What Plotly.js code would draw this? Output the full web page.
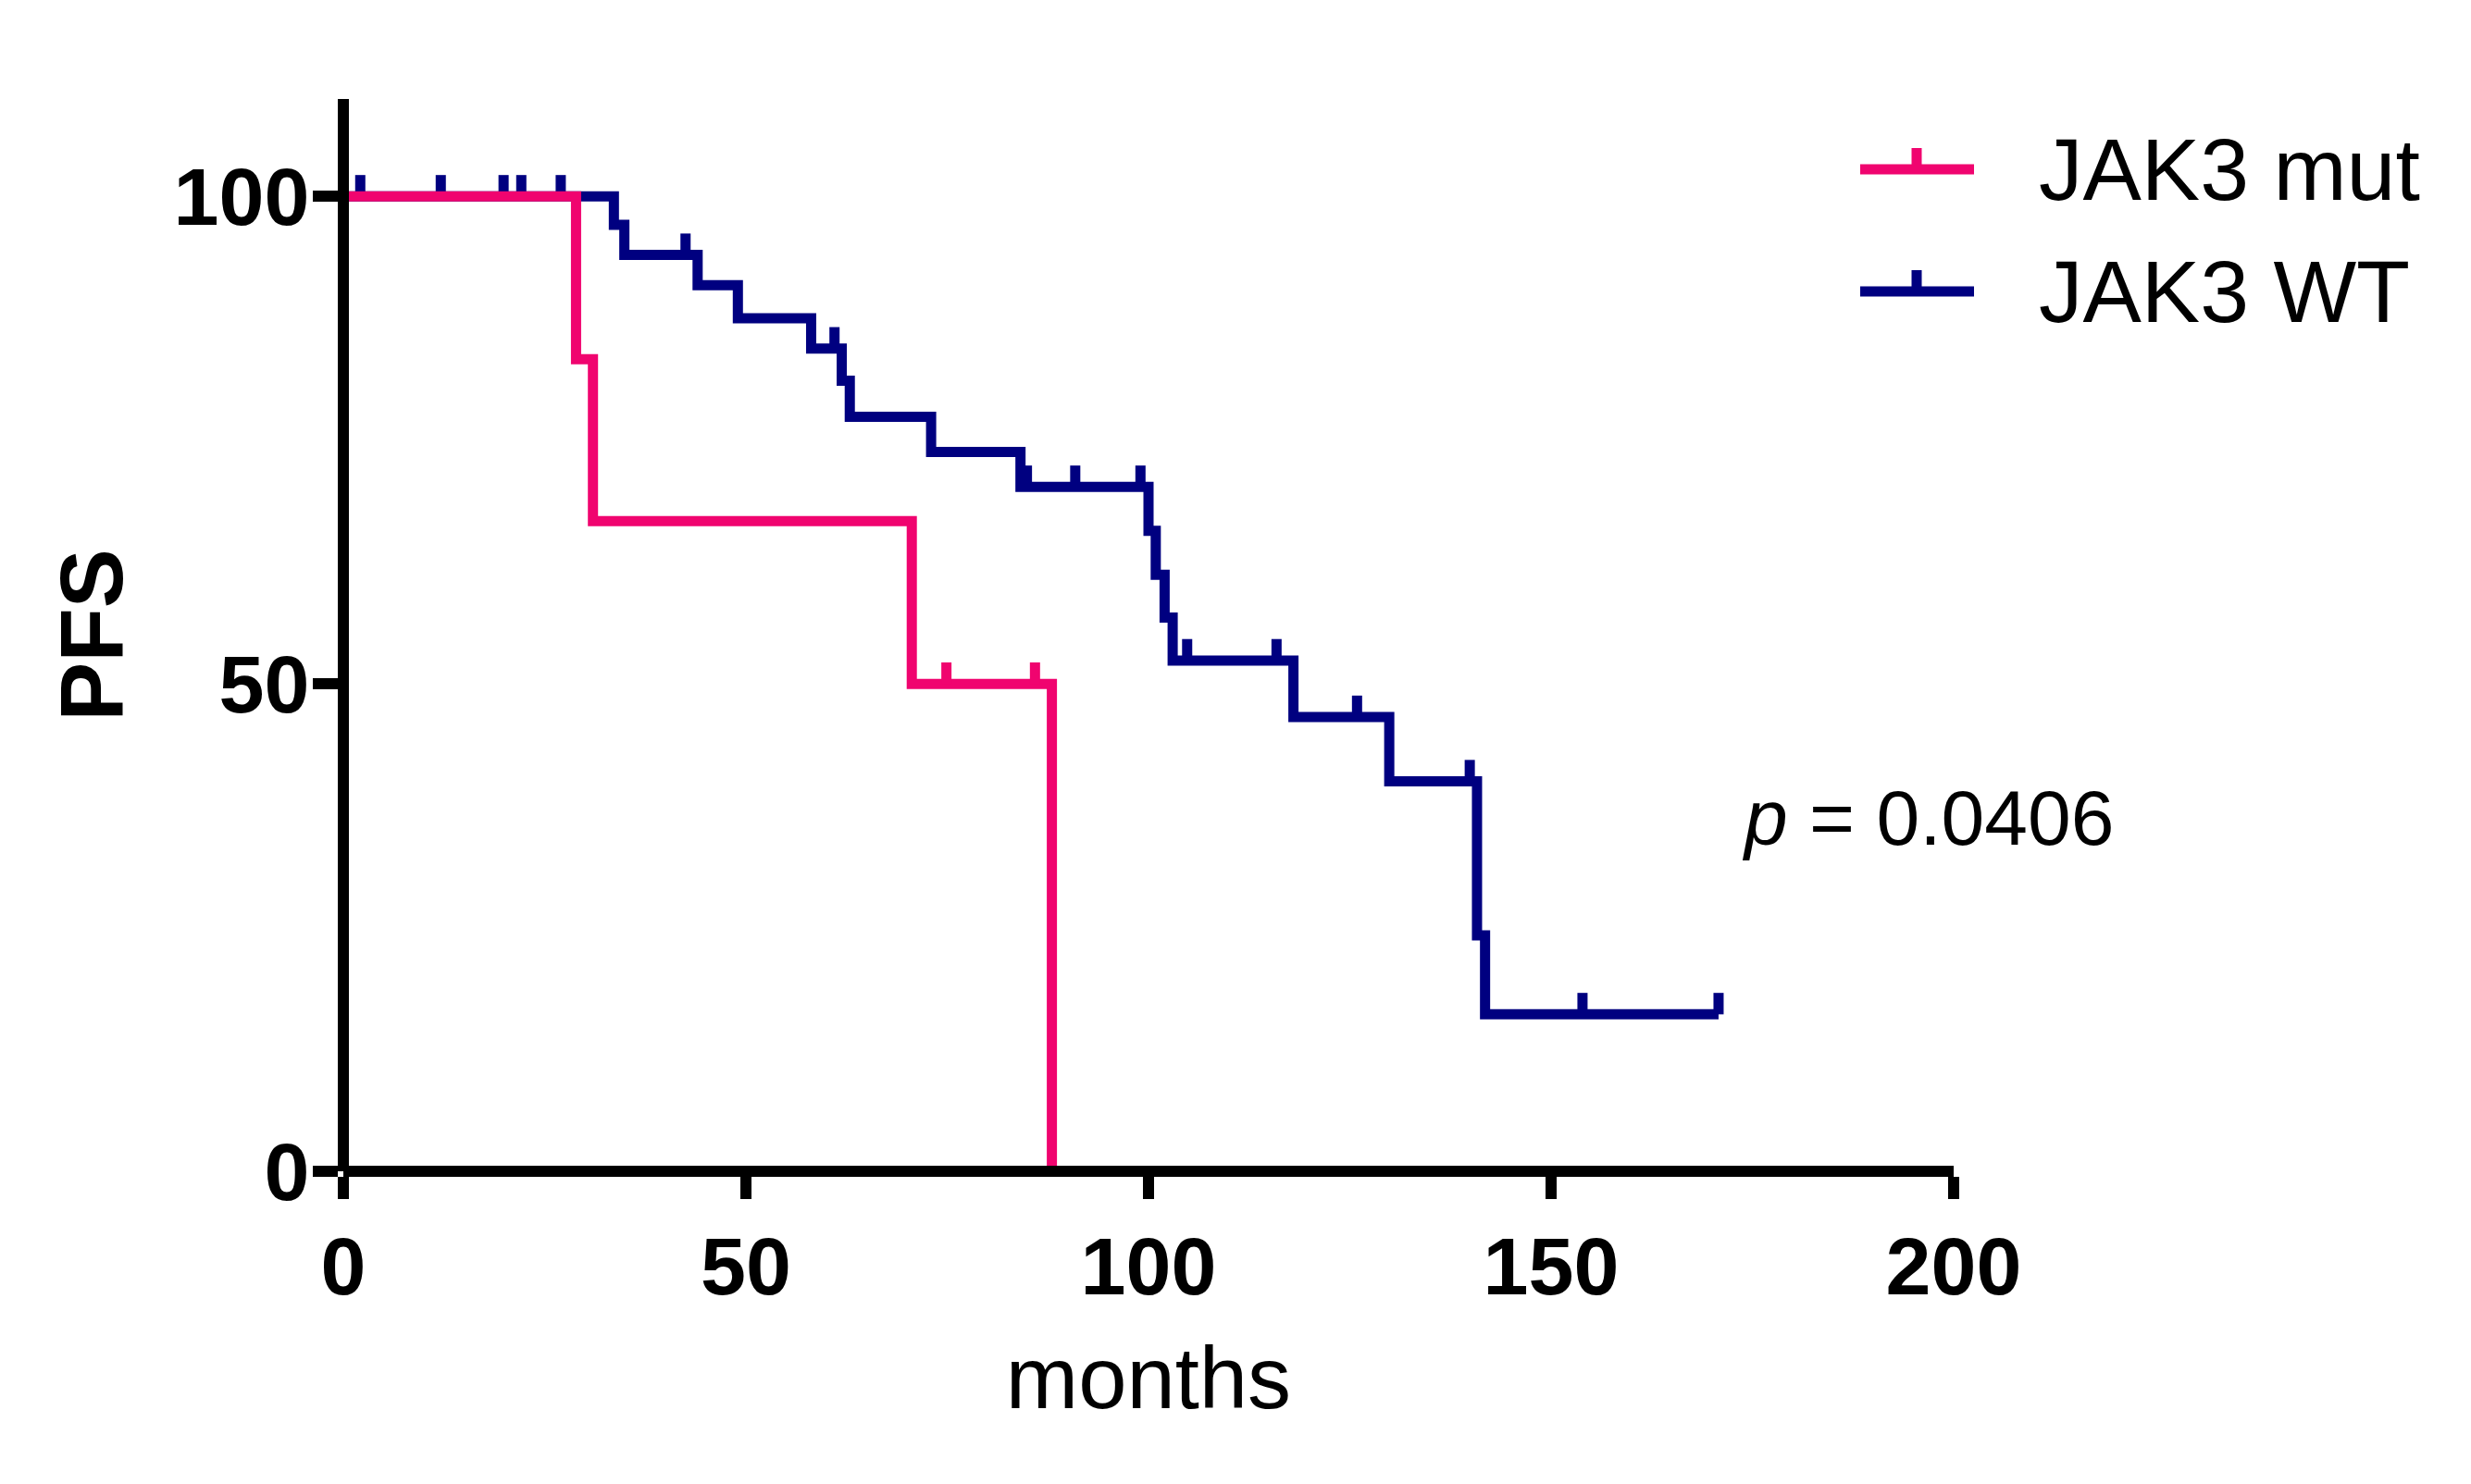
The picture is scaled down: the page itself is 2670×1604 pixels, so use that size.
<!DOCTYPE html>
<html>
<head>
<meta charset="utf-8">
<script src="https://cdn.plot.ly/plotly-3.0.1.min.js"></script>
<style>html,body{margin:0;padding:0;background:#fff;}#chart{width:2670px;height:1604px;}</style>
</head>
<body>
<div id="chart"></div>
<script>
// ---- data ----
const seriesNames = ['JAK3 mut', 'JAK3 WT'];
// JAK3 mut
const mutEventMonths = [28.9, 31.0, 70.6, 88.0];
const mutEventSurv   = [83.3, 66.7, 50.0, 0.0];
const mutCensorMonths = [74.9, 85.9];
// JAK3 WT
const wtEventMonths = [33.6, 34.9, 44.0, 49.0, 58.1, 61.9, 62.9, 73.0, 84.1, 100.0, 100.9, 102.0, 103.0, 118.0, 129.9, 140.8, 141.8];
const wtEventSurv   = [97.1, 94.0, 90.9, 87.5, 84.4, 81.1, 77.4, 73.8, 70.2, 65.7, 61.2, 56.8, 52.4, 46.6, 40.0, 24.2, 16.1];
const wtCensorMonths = [2.1, 12.1, 19.9, 22.1, 27.0, 42.5, 61.0, 84.9, 90.9, 99.0, 104.8, 115.9, 125.9, 139.9, 153.9, 170.8];
// axes
const xTickVals = [0, 50, 100, 150, 200];
const yTickVals = [0, 50, 100];
const pText = '<i>p</i> = 0.0406';

// ---- styles ----
const COLORS = ['#F0046F', '#000080'];
const FONT = 'Liberation Sans, Arial, Helvetica, sans-serif';
const LW = 11;      // curve width
const AW = 12;      // axis width
const TICK_H = 2.2; // censor tick height (survival units)

function stepCurve(evM, evS, cenM) {
  const x = [0].concat(evM);
  const y = [100].concat(evS);
  const lastC = Math.max.apply(null, cenM);
  if (lastC > evM[evM.length - 1] && evS[evS.length - 1] > 0) {
    x.push(lastC); y.push(evS[evS.length - 1]);
  }
  return {x: x, y: y};
}
function survAt(t, evM, evS) {
  let s = 100;
  for (let i = 0; i < evM.length; i++) { if (evM[i] <= t) s = evS[i]; }
  return s;
}
function curveTraces(name, color, evM, evS, cenM) {
  const c = stepCurve(evM, evS, cenM);
  return [
    {type: 'scatter', mode: 'lines', name: name, x: c.x, y: c.y,
     line: {shape: 'hv', color: color, width: LW}, showlegend: false, hoverinfo: 'skip'},
    {type: 'scatter', mode: 'markers', name: name + ' censored', x: cenM,
     y: cenM.map(t => survAt(t, evM, evS)),
     marker: {size: 1, color: 'rgba(0,0,0,0)'},
     error_y: {type: 'data', symmetric: false, array: cenM.map(() => TICK_H),
               arrayminus: cenM.map(() => 0), width: 0, thickness: LW, color: color},
     showlegend: false, hoverinfo: 'skip'}
  ];
}

const data = [].concat(
  curveTraces(seriesNames[1], COLORS[1], wtEventMonths, wtEventSurv, wtCensorMonths),
  curveTraces(seriesNames[0], COLORS[0], mutEventMonths, mutEventSurv, mutCensorMonths)
);

// plot box in pixels
const L = 371, R = 2111, T = 107, B = 1266;
const W = R - L, H = B - T;
const px = v => (v - L) / W;
const py = v => (B - v) / H;

// manual legend
const legendRows = [183, 315];
const shapes = [], annotations = [];
legendRows.forEach((yy, i) => {
  shapes.push({type: 'line', xref: 'paper', yref: 'paper', x0: px(2010), x1: px(2133), y0: py(yy), y1: py(yy),
               line: {color: COLORS[i], width: LW}});
  shapes.push({type: 'line', xref: 'paper', yref: 'paper', x0: px(2071), x1: px(2071), y0: py(yy), y1: py(yy - 23),
               line: {color: COLORS[i], width: LW}});
  annotations.push({xref: 'paper', yref: 'paper', x: px(2201), y: py(yy), xanchor: 'left', yanchor: 'middle',
                    text: seriesNames[i], showarrow: false, font: {family: FONT, size: 95, color: '#000'}});
});
annotations.push({xref: 'paper', yref: 'paper', x: px(1880), y: py(884), xanchor: 'left', yanchor: 'middle',
                  text: pText, showarrow: false, font: {family: FONT, size: 84, color: '#000'}});

const layout = {
  width: 2670, height: 1604,
  margin: {l: L, r: 2670 - R, t: T, b: 1604 - B, pad: 0},
  paper_bgcolor: '#fff', plot_bgcolor: '#fff',
  showlegend: false,
  font: {family: FONT, color: '#000'},
  xaxis: {
    range: [0, 200], anchor: 'free', position: 0,
    tickvals: xTickVals, ticktext: xTickVals.map(String),
    showline: true, linewidth: AW, linecolor: '#000',
    ticks: 'outside', ticklen: 24, tickwidth: AW, tickcolor: '#000',
    tickfont: {family: FONT, size: 88, color: '#000', weight: 'bold'},
    ticklabelstandoff: -3,
    showgrid: false, zeroline: false, automargin: false,
    title: {text: 'months', font: {family: FONT, size: 94, color: '#000'}, standoff: 39}
  },
  yaxis: {
    range: [0, 110], anchor: 'free', position: 0,
    tickvals: yTickVals, ticktext: yTickVals.map(String),
    showline: true, linewidth: AW, linecolor: '#000',
    ticks: 'outside', ticklen: 27, tickwidth: AW, tickcolor: '#000',
    tickfont: {family: FONT, size: 88, color: '#000', weight: 'bold'},
    ticklabelstandoff: -14,
    showgrid: false, zeroline: false, automargin: false,
    title: {text: 'PFS', font: {family: FONT, size: 96, color: '#000', weight: 'bold'}, standoff: 22}
  },
  shapes: shapes,
  annotations: annotations
};

Plotly.newPlot('chart', data, layout, {staticPlot: true, displayModeBar: false});
</script>
</body>
</html>
